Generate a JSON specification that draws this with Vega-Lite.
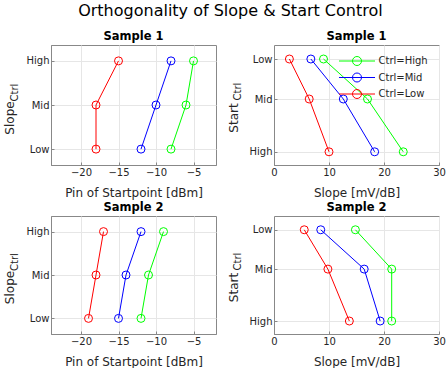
{
  "$schema": "https://vega.github.io/schema/vega-lite/v6.json",
  "padding": {"left": 3, "top": 3, "right": 0, "bottom": 0},
  "title": {"text": "Orthogonality of Slope & Start Control", "fontSize": 16, "fontWeight": "normal", "anchor": "middle", "offset": 11.7, "dx": 6, "color": "#000000"},
  "datasets": {
    "pin": [
      {"sample": "Sample 1", "ctrl": "High", "level": "Low", "code": 1, "value": -8},
      {"sample": "Sample 1", "ctrl": "High", "level": "Mid", "code": 2, "value": -6},
      {"sample": "Sample 1", "ctrl": "High", "level": "High", "code": 3, "value": -5},
      {"sample": "Sample 1", "ctrl": "Mid", "level": "Low", "code": 1, "value": -12},
      {"sample": "Sample 1", "ctrl": "Mid", "level": "Mid", "code": 2, "value": -10},
      {"sample": "Sample 1", "ctrl": "Mid", "level": "High", "code": 3, "value": -8},
      {"sample": "Sample 1", "ctrl": "Low", "level": "Low", "code": 1, "value": -18},
      {"sample": "Sample 1", "ctrl": "Low", "level": "Mid", "code": 2, "value": -18},
      {"sample": "Sample 1", "ctrl": "Low", "level": "High", "code": 3, "value": -15},
      {"sample": "Sample 2", "ctrl": "High", "level": "Low", "code": 1, "value": -12},
      {"sample": "Sample 2", "ctrl": "High", "level": "Mid", "code": 2, "value": -11},
      {"sample": "Sample 2", "ctrl": "High", "level": "High", "code": 3, "value": -9},
      {"sample": "Sample 2", "ctrl": "Mid", "level": "Low", "code": 1, "value": -15},
      {"sample": "Sample 2", "ctrl": "Mid", "level": "Mid", "code": 2, "value": -14},
      {"sample": "Sample 2", "ctrl": "Mid", "level": "High", "code": 3, "value": -12},
      {"sample": "Sample 2", "ctrl": "Low", "level": "Low", "code": 1, "value": -19},
      {"sample": "Sample 2", "ctrl": "Low", "level": "Mid", "code": 2, "value": -18},
      {"sample": "Sample 2", "ctrl": "Low", "level": "High", "code": 3, "value": -17}
    ],
    "slope": [
      {"sample": "Sample 1", "ctrl": "High", "level": "Low", "code": 1, "value": 9.0},
      {"sample": "Sample 1", "ctrl": "High", "level": "Mid", "code": 2, "value": 17.0},
      {"sample": "Sample 1", "ctrl": "High", "level": "High", "code": 3.32, "value": 23.5},
      {"sample": "Sample 1", "ctrl": "Mid", "level": "Low", "code": 1, "value": 6.7},
      {"sample": "Sample 1", "ctrl": "Mid", "level": "Mid", "code": 2, "value": 12.6},
      {"sample": "Sample 1", "ctrl": "Mid", "level": "High", "code": 3.32, "value": 18.3},
      {"sample": "Sample 1", "ctrl": "Low", "level": "Low", "code": 1, "value": 2.8},
      {"sample": "Sample 1", "ctrl": "Low", "level": "Mid", "code": 2, "value": 6.4},
      {"sample": "Sample 1", "ctrl": "Low", "level": "High", "code": 3.32, "value": 10.0},
      {"sample": "Sample 2", "ctrl": "High", "level": "Low", "code": 1, "value": 14.8},
      {"sample": "Sample 2", "ctrl": "High", "level": "Mid", "code": 2, "value": 21.4},
      {"sample": "Sample 2", "ctrl": "High", "level": "High", "code": 3.32, "value": 21.4},
      {"sample": "Sample 2", "ctrl": "Mid", "level": "Low", "code": 1, "value": 8.5},
      {"sample": "Sample 2", "ctrl": "Mid", "level": "Mid", "code": 2, "value": 16.4},
      {"sample": "Sample 2", "ctrl": "Mid", "level": "High", "code": 3.32, "value": 19.3},
      {"sample": "Sample 2", "ctrl": "Low", "level": "Low", "code": 1, "value": 5.5},
      {"sample": "Sample 2", "ctrl": "Low", "level": "Mid", "code": 2, "value": 9.8},
      {"sample": "Sample 2", "ctrl": "Low", "level": "High", "code": 3.32, "value": 13.7}
    ]
  },
  "bounds": "flush",
  "columns": 2,
  "spacing": {"row": 51, "column": 58},
  "resolve": {"legend": {"color": "independent"}},
  "concat": [
    {
      "width": 165, "height": 120,
      "title": "Sample 1",
      "data": {"name": "pin"},
      "transform": [{"filter": "datum.sample == 'Sample 1'"}],
      "layer": [
        {
          "mark": {"type": "line", "strokeWidth": 1},
          "encoding": {
            "x": {"field": "value", "type": "quantitative", "scale": {"domain": [-24, -2], "nice": false, "zero": false}, "axis": {"values": [-20, -15, -10, -5], "title": "Pin of Startpoint [dBm]"}},
            "y": {"field": "code", "type": "quantitative", "scale": {"domain": [0.64, 3.36], "nice": false, "zero": false}, "axis": {"values": [1, 2, 3], "labelExpr": "datum.value < 1.5 ? 'Low' : datum.value < 2.5 ? 'Mid' : 'High'", "title": "Slope", "titleX": -37.5, "titleY": 72.5, "titleAngle": -90, "titleAlign": "center", "titleBaseline": "alphabetic"}},
            "color": {"field": "ctrl", "type": "nominal", "scale": {"domain": ["High", "Mid", "Low"], "range": ["#00ff00", "#0000ff", "#ff0000"]}, "legend": null},
            "order": {"field": "code", "type": "quantitative"}
          }
        },
        {
          "mark": {"type": "point", "shape": "circle", "size": 64, "strokeWidth": 1, "filled": false, "opacity": 1},
          "encoding": {
            "x": {"field": "value", "type": "quantitative", "scale": {"domain": [-24, -2], "nice": false, "zero": false}, "axis": {"values": [-20, -15, -10, -5], "title": "Pin of Startpoint [dBm]"}},
            "y": {"field": "code", "type": "quantitative", "scale": {"domain": [0.64, 3.36], "nice": false, "zero": false}, "axis": {"orient": "left", "labels": false, "ticks": false, "domain": false, "grid": false, "title": "Ctrl", "titleFontSize": 10, "titleX": -34, "titleY": 47, "titleAngle": -90, "titleAlign": "center", "titleBaseline": "alphabetic"}},
            "color": {"field": "ctrl", "type": "nominal", "scale": {"domain": ["High", "Mid", "Low"], "range": ["#00ff00", "#0000ff", "#ff0000"]}, "legend": null}
          }
        }
      ],
      "resolve": {"scale": {"y": "independent"}}
    },
    {
      "width": 165, "height": 120,
      "title": "Sample 1",
      "data": {"name": "slope"},
      "transform": [{"filter": "datum.sample == 'Sample 1'"}],
      "layer": [
        {
          "mark": {"type": "line", "strokeWidth": 1},
          "encoding": {
            "x": {"field": "value", "type": "quantitative", "scale": {"domain": [0, 30], "nice": false, "zero": false}, "axis": {"values": [0, 10, 20, 30], "title": "Slope [mV/dB]"}},
            "y": {"field": "code", "type": "quantitative", "scale": {"domain": [0.65, 3.65], "reverse": true, "nice": false, "zero": false}, "axis": {"values": [1, 2, 3.32], "labelExpr": "datum.value < 1.5 ? 'Low' : datum.value < 2.5 ? 'Mid' : 'High'", "title": "Start", "titleX": -37, "titleY": 72.5, "titleAngle": -90, "titleAlign": "center", "titleBaseline": "alphabetic"}},
            "color": {"field": "ctrl", "type": "nominal", "scale": {"domain": ["High", "Mid", "Low"], "range": ["#00ff00", "#0000ff", "#ff0000"]}, "legend": {"title": null, "orient": "top-right", "offset": 9, "symbolType": "M-4,0L4,0M1,0A1,1,0,1,1,-1,0A1,1,0,1,1,1,0", "symbolSize": 81, "symbolStrokeWidth": 1, "symbolFillColor": "transparent", "labelFontSize": 10, "labelExpr": "'Ctrl=' + datum.label", "rowPadding": 2.5, "labelOffset": 16.5, "padding": 2}},
            "order": {"field": "code", "type": "quantitative"}
          }
        },
        {
          "mark": {"type": "point", "shape": "circle", "size": 64, "strokeWidth": 1, "filled": false, "opacity": 1},
          "encoding": {
            "x": {"field": "value", "type": "quantitative", "scale": {"domain": [0, 30], "nice": false, "zero": false}, "axis": {"values": [0, 10, 20, 30], "title": "Slope [mV/dB]"}},
            "y": {"field": "code", "type": "quantitative", "scale": {"domain": [0.65, 3.65], "reverse": true, "nice": false, "zero": false}, "axis": {"orient": "left", "labels": false, "ticks": false, "domain": false, "grid": false, "title": "Ctrl", "titleFontSize": 10, "titleX": -33.5, "titleY": 46, "titleAngle": -90, "titleAlign": "center", "titleBaseline": "alphabetic"}},
            "color": {"field": "ctrl", "type": "nominal", "scale": {"domain": ["High", "Mid", "Low"], "range": ["#00ff00", "#0000ff", "#ff0000"]}}
          }
        }
      ],
      "resolve": {"scale": {"y": "independent"}}
    },
    {
      "width": 165, "height": 118,
      "title": "Sample 2",
      "data": {"name": "pin"},
      "transform": [{"filter": "datum.sample == 'Sample 2'"}],
      "layer": [
        {
          "mark": {"type": "line", "strokeWidth": 1},
          "encoding": {
            "x": {"field": "value", "type": "quantitative", "scale": {"domain": [-24, -2], "nice": false, "zero": false}, "axis": {"values": [-20, -15, -10, -5], "title": "Pin of Startpoint [dBm]"}},
            "y": {"field": "code", "type": "quantitative", "scale": {"domain": [0.64, 3.36], "nice": false, "zero": false}, "axis": {"values": [1, 2, 3], "labelExpr": "datum.value < 1.5 ? 'Low' : datum.value < 2.5 ? 'Mid' : 'High'", "title": "Slope", "titleX": -37.5, "titleY": 71, "titleAngle": -90, "titleAlign": "center", "titleBaseline": "alphabetic"}},
            "color": {"field": "ctrl", "type": "nominal", "scale": {"domain": ["High", "Mid", "Low"], "range": ["#00ff00", "#0000ff", "#ff0000"]}, "legend": null},
            "order": {"field": "code", "type": "quantitative"}
          }
        },
        {
          "mark": {"type": "point", "shape": "circle", "size": 64, "strokeWidth": 1, "filled": false, "opacity": 1},
          "encoding": {
            "x": {"field": "value", "type": "quantitative", "scale": {"domain": [-24, -2], "nice": false, "zero": false}, "axis": {"values": [-20, -15, -10, -5], "title": "Pin of Startpoint [dBm]"}},
            "y": {"field": "code", "type": "quantitative", "scale": {"domain": [0.64, 3.36], "nice": false, "zero": false}, "axis": {"orient": "left", "labels": false, "ticks": false, "domain": false, "grid": false, "title": "Ctrl", "titleFontSize": 10, "titleX": -34, "titleY": 45.5, "titleAngle": -90, "titleAlign": "center", "titleBaseline": "alphabetic"}},
            "color": {"field": "ctrl", "type": "nominal", "scale": {"domain": ["High", "Mid", "Low"], "range": ["#00ff00", "#0000ff", "#ff0000"]}, "legend": null}
          }
        }
      ],
      "resolve": {"scale": {"y": "independent"}}
    },
    {
      "width": 165, "height": 118,
      "title": "Sample 2",
      "data": {"name": "slope"},
      "transform": [{"filter": "datum.sample == 'Sample 2'"}],
      "layer": [
        {
          "mark": {"type": "line", "strokeWidth": 1},
          "encoding": {
            "x": {"field": "value", "type": "quantitative", "scale": {"domain": [0, 30], "nice": false, "zero": false}, "axis": {"values": [0, 10, 20, 30], "title": "Slope [mV/dB]"}},
            "y": {"field": "code", "type": "quantitative", "scale": {"domain": [0.65, 3.65], "reverse": true, "nice": false, "zero": false}, "axis": {"values": [1, 2, 3.32], "labelExpr": "datum.value < 1.5 ? 'Low' : datum.value < 2.5 ? 'Mid' : 'High'", "title": "Start", "titleX": -37, "titleY": 71, "titleAngle": -90, "titleAlign": "center", "titleBaseline": "alphabetic"}},
            "color": {"field": "ctrl", "type": "nominal", "scale": {"domain": ["High", "Mid", "Low"], "range": ["#00ff00", "#0000ff", "#ff0000"]}, "legend": null},
            "order": {"field": "code", "type": "quantitative"}
          }
        },
        {
          "mark": {"type": "point", "shape": "circle", "size": 64, "strokeWidth": 1, "filled": false, "opacity": 1},
          "encoding": {
            "x": {"field": "value", "type": "quantitative", "scale": {"domain": [0, 30], "nice": false, "zero": false}, "axis": {"values": [0, 10, 20, 30], "title": "Slope [mV/dB]"}},
            "y": {"field": "code", "type": "quantitative", "scale": {"domain": [0.65, 3.65], "reverse": true, "nice": false, "zero": false}, "axis": {"orient": "left", "labels": false, "ticks": false, "domain": false, "grid": false, "title": "Ctrl", "titleFontSize": 10, "titleX": -33.5, "titleY": 45, "titleAngle": -90, "titleAlign": "center", "titleBaseline": "alphabetic"}},
            "color": {"field": "ctrl", "type": "nominal", "scale": {"domain": ["High", "Mid", "Low"], "range": ["#00ff00", "#0000ff", "#ff0000"]}, "legend": null}
          }
        }
      ],
      "resolve": {"scale": {"y": "independent"}}
    }
  ],
  "config": {
    "font": "DejaVu Sans",
    "background": "#ffffff",
    "view": {"stroke": "#888888", "strokeWidth": 1},
    "axis": {
      "labelFontSize": 10, "titleFontSize": 12, "titleFontWeight": "normal",
      "labelColor": "#262626", "titleColor": "#262626",
      "domainColor": "#888888", "domainWidth": 1,
      "gridColor": "#e6e6e6", "gridWidth": 1,
      "tickColor": "#888888", "tickSize": -3, "tickWidth": 1,
      "labelPadding": 5, "titlePadding": 10, "labelFlush": false, "labelOverlap": false
    },
    "legend": {"labelColor": "#262626", "labelFontSize": 10},
    "title": {"fontSize": 11.5, "fontWeight": "bold", "offset": 2.3, "color": "#000000"}
  }
}
